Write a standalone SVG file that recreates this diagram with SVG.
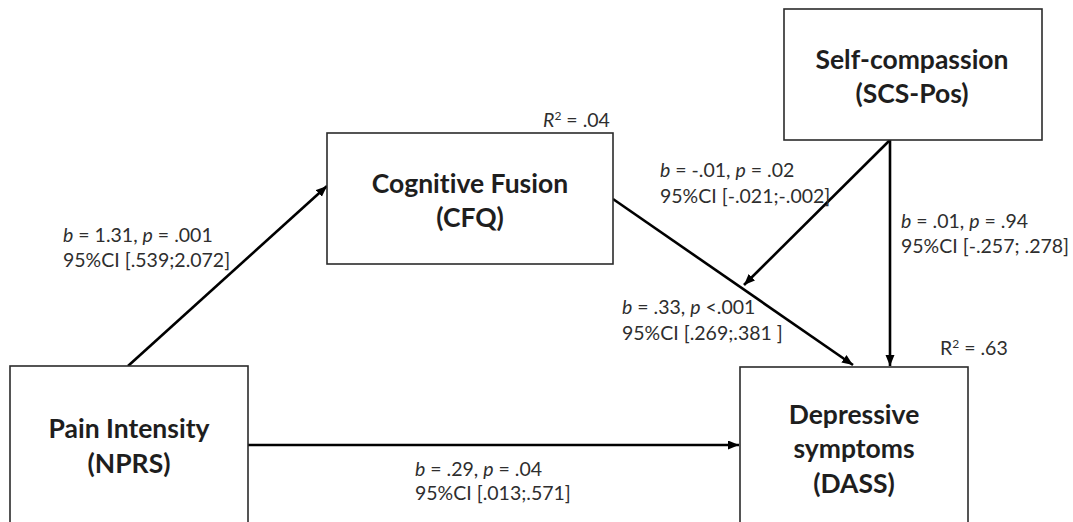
<svg xmlns="http://www.w3.org/2000/svg" width="1073" height="522" viewBox="0 0 1073 522">
  <style>
    .box { fill: #ffffff; stroke: #2b2b2b; stroke-width: 1.6; }
    .title { font-family: Lato, "Open Sans", "Liberation Sans", sans-serif; font-weight: bold; font-size: 26.5px; fill: #1e1e1e; text-anchor: middle; font-variant-ligatures: none; }
    .lbl { font-family: Lato, "Open Sans", "Liberation Sans", sans-serif; font-size: 19.5px; fill: #2e2e2e; font-variant-ligatures: none; }
    .it { font-style: italic; }
    .sup { font-size: 12px; }
    .conn { stroke: #000000; stroke-width: 2.6; fill: none; marker-end: url(#arrow); }
  </style>
  <defs>
    <marker id="arrow" markerUnits="userSpaceOnUse" markerWidth="12" markerHeight="10" refX="11" refY="4.5" orient="auto">
      <path d="M0,0 L11,4.5 L0,9 Z" fill="#000000"/>
    </marker>
  </defs>
  <rect width="1073" height="522" fill="#ffffff"/>

  <g id="connectors">
    <line class="conn" x1="128" y1="366" x2="327" y2="186"/>
    <line class="conn" x1="248" y1="445" x2="739" y2="445"/>
    <line class="conn" x1="613" y1="199" x2="853" y2="365"/>
    <line class="conn" x1="890" y1="140" x2="744" y2="285"/>
    <line class="conn" x1="890" y1="140" x2="890" y2="366"/>
  </g>

  <g id="node-pain">
    <rect class="box" x="10" y="366" width="238" height="160"/>
    <text class="title" x="129" y="438">Pain Intensity</text>
    <text class="title" x="129" y="473">(NPRS)</text>
  </g>

  <g id="node-cfq">
    <rect class="box" x="327" y="133" width="286" height="131"/>
    <text class="title" x="470" y="193">Cognitive Fusion</text>
    <text class="title" x="470" y="227">(CFQ)</text>
  </g>

  <g id="node-scs">
    <rect class="box" x="784" y="9" width="258" height="131"/>
    <text class="title" x="912" y="69">Self-compassion</text>
    <text class="title" x="912" y="103">(SCS-Pos)</text>
  </g>

  <g id="node-dass">
    <rect class="box" x="740" y="367" width="228" height="160"/>
    <text class="title" x="854" y="424">Depressive</text>
    <text class="title" x="854" y="458">symptoms</text>
    <text class="title" x="854" y="493">(DASS)</text>
  </g>

  <g id="labels">
    <text class="lbl" x="543" y="127"><tspan class="it">R</tspan><tspan class="sup" dy="-7">2</tspan><tspan dy="7"> = .04</tspan></text>
    <text class="lbl" x="940" y="355">R<tspan class="sup" dy="-7">2</tspan><tspan dy="7"> = .63</tspan></text>

    <text class="lbl" x="63" y="242"><tspan class="it">b</tspan> = 1.31, <tspan class="it">p</tspan> = .001</text>
    <text class="lbl" x="63" y="267">95%CI [.539;2.072]</text>

    <text class="lbl" x="660" y="177"><tspan class="it">b</tspan> = -.01, <tspan class="it">p</tspan> = .02</text>
    <text class="lbl" x="660" y="203">95%CI [-.021;-.002]</text>

    <text class="lbl" x="901" y="228"><tspan class="it">b</tspan> = .01, <tspan class="it">p</tspan> = .94</text>
    <text class="lbl" x="901" y="253">95%CI [-.257; .278]</text>

    <text class="lbl" x="622" y="314"><tspan class="it">b</tspan> = .33, <tspan class="it">p</tspan> &lt;.001</text>
    <text class="lbl" x="622" y="340">95%CI [.269;.381 ]</text>

    <text class="lbl" x="415" y="476"><tspan class="it">b</tspan> = .29, <tspan class="it">p</tspan> = .04</text>
    <text class="lbl" x="415" y="500">95%CI [.013;.571]</text>
  </g>
</svg>
